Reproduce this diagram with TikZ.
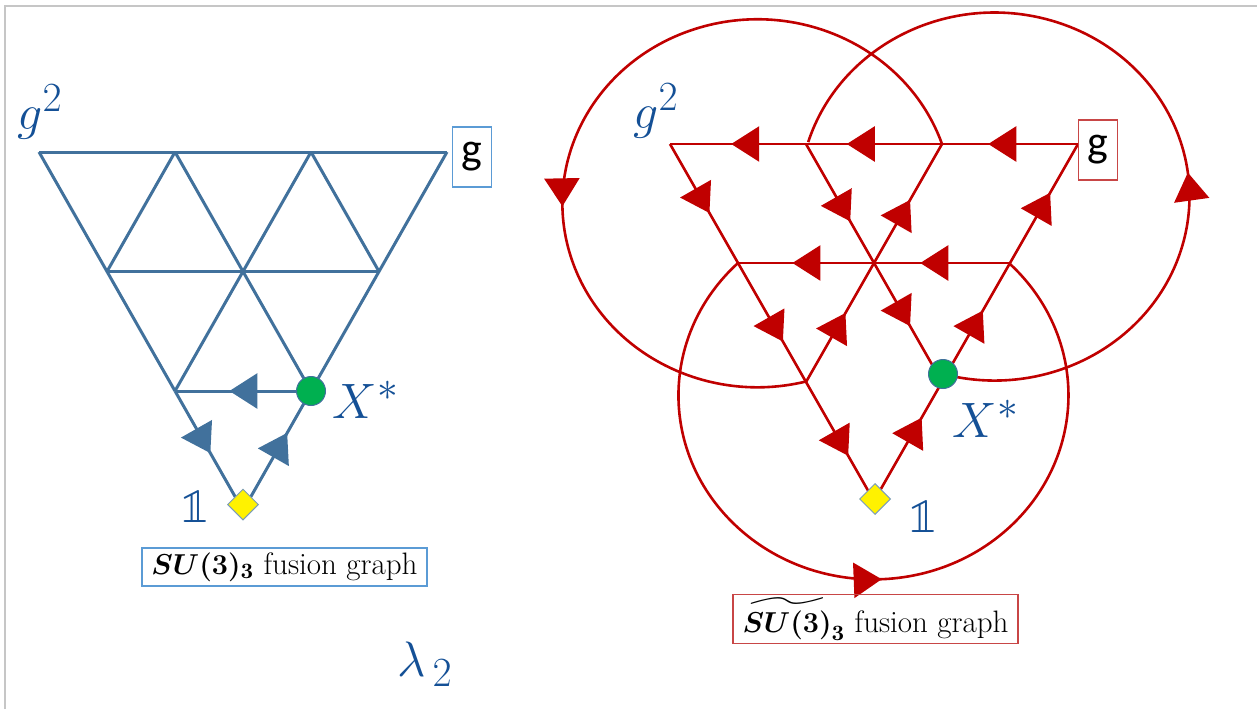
\documentclass[tikz,border=0pt]{standalone}
\usepackage{amsmath,amssymb}
\usepackage{fontspec}
\newfontfamily\carlito{Carlito}
\newfontfamily\lmmath{latinmodern-math.otf}
\usepackage{tikz}
\usetikzlibrary{arrows.meta,calc,positioning,shapes.geometric,decorations.markings}
\definecolor{latblue}{RGB}{65,113,156}
\definecolor{boxblue}{RGB}{91,155,213}
\definecolor{latred}{RGB}{192,0,0}
\definecolor{boxred}{RGB}{200,70,70}
\definecolor{dotgreen}{RGB}{0,176,80}
\definecolor{inkblue}{RGB}{20,80,150}

\begin{document}
\begin{tikzpicture}[x=0.5pt,y=0.5pt,
  bedge/.style={draw=latblue,line width=1.5pt},
  redge/.style={draw=latred,line width=1.3pt},
  mid/.style={postaction={decorate},decoration={markings,
    mark=at position #1 with {\arrow{Triangle[length=14pt,width=17.5pt]}}}},
  mid/.default=0.6,
  gbox/.style={draw=#1,line width=0.6pt,font=\carlito\fontsize{22}{26}\selectfont,
    minimum width=19.5pt,minimum height=30pt,inner sep=0pt},
  capbox/.style={draw=#1,line width=0.6pt,font=\fontsize{15.5}{18}\selectfont,
    minimum width=142.5pt,minimum height=19pt,inner sep=1.5pt},
  ink/.style={text=inkblue,font=\fontsize{24.88}{28}\selectfont,inner sep=0pt},
  gdot/.style={circle,fill=dotgreen,draw=latblue,line width=0.5pt,minimum size=14.5pt,inner sep=0pt},
  one/.style={diamond,fill=yellow,draw=latblue!70,line width=0.5pt,minimum size=15.5pt,inner sep=0pt}]
  \useasboundingbox (0,0) rectangle (1257,709);
  \draw[gray!45,line width=0.8pt] (5,0) -- (5,703) -- (1257,703);
  % lattice points, row by row
  \foreach \r/\n in {0/3,1/2,2/1,3/0}
    \foreach \i in {0,...,\n}{
      \coordinate (L\r\i) at ({39+136*\i+68*\r},{557-119.5*\r});
      \coordinate (R\r\i) at ({670+136*\i+68*\r},{565-119*\r});
    }
  % SU(3)_3
  \foreach \a/\b in {L00/L03,L10/L12,L00/L20,L01/L21,L02/L12,L01/L10,L02/L20,L03/L21}
    \draw[bedge] (\a) -- (\b);
  \foreach \a/\b/\p in {L21/L20/0.6,L20/L30/0.52,L30/L21/0.65}
    \draw[bedge,mid=\p] (\a) -- (\b);
  \node[gdot] (lx) at (L21) {};
  \node[one] (lone) at ($(L30)+(0,6)$) {};
  \node[gbox=boxblue,right=2.5pt of L03,yshift=-2.5pt] (lg) {g};
  \node[capbox=boxblue] (lcap) at (284.5,142) {{\boldmath$SU(3)_3$} fusion graph};
  % affine version
  \foreach \a/\b/\p in {R03/R02/0.66,R02/R01/0.7,R01/R00/0.55,R12/R11/0.66,R11/R10/0.6,
    R00/R10/0.58,R10/R20/0.66,R20/R30/0.62,R01/R11/0.65,R11/R21/0.53,
    R30/R21/0.7,R21/R12/0.6,R12/R03/0.59,R20/R11/0.58,R11/R02/0.53}
    \draw[redge,mid=\p] (\a) -- (\b);
  \coordinate (rxc) at ($(R21)+(1,8)$);
  \draw[redge,mid=0.61] (R02) arc[start angle=18.8,end angle=284.5,x radius=195,y radius=184];
  \draw[redge,mid=0.42] (rxc) arc[start angle=254.7,end angle=522.8,x radius=195,y radius=184];
  \draw[redge,mid=0.51] (R10) arc[start angle=134,end angle=405.6,x radius=195,y radius=184];
  \node[gdot] (rx) at (rxc) {};
  \node[one] (rone) at ($(R30)+(1,2)$) {};
  \node[gbox=boxred,right=0pt of R03,yshift=-3pt] (rg) {g};
  \node[capbox=boxred,minimum height=21pt] (rcap) at (875.5,90) {{\boldmath$\widetilde{SU(3)}_3$} fusion graph};
  % handwritten notes
  \node[ink] (lgsq) at (40,597) {$g^2$};
  \node[ink] (rgsq) at (656,598) {$g^2$};
  \node[ink] (lxs) at (366,309) {$X^{*}$};
  \node[ink] (rxs) at (986,290) {$X^{*}$};
  \node[ink] (lid) at (195,203) {\lmmath 𝟙};
  \node[ink] (rid) at (923,193) {\lmmath 𝟙};
  \node[ink] (lam) at (425,45) {$\lambda_{\,2}$};
\end{tikzpicture}
\end{document}
